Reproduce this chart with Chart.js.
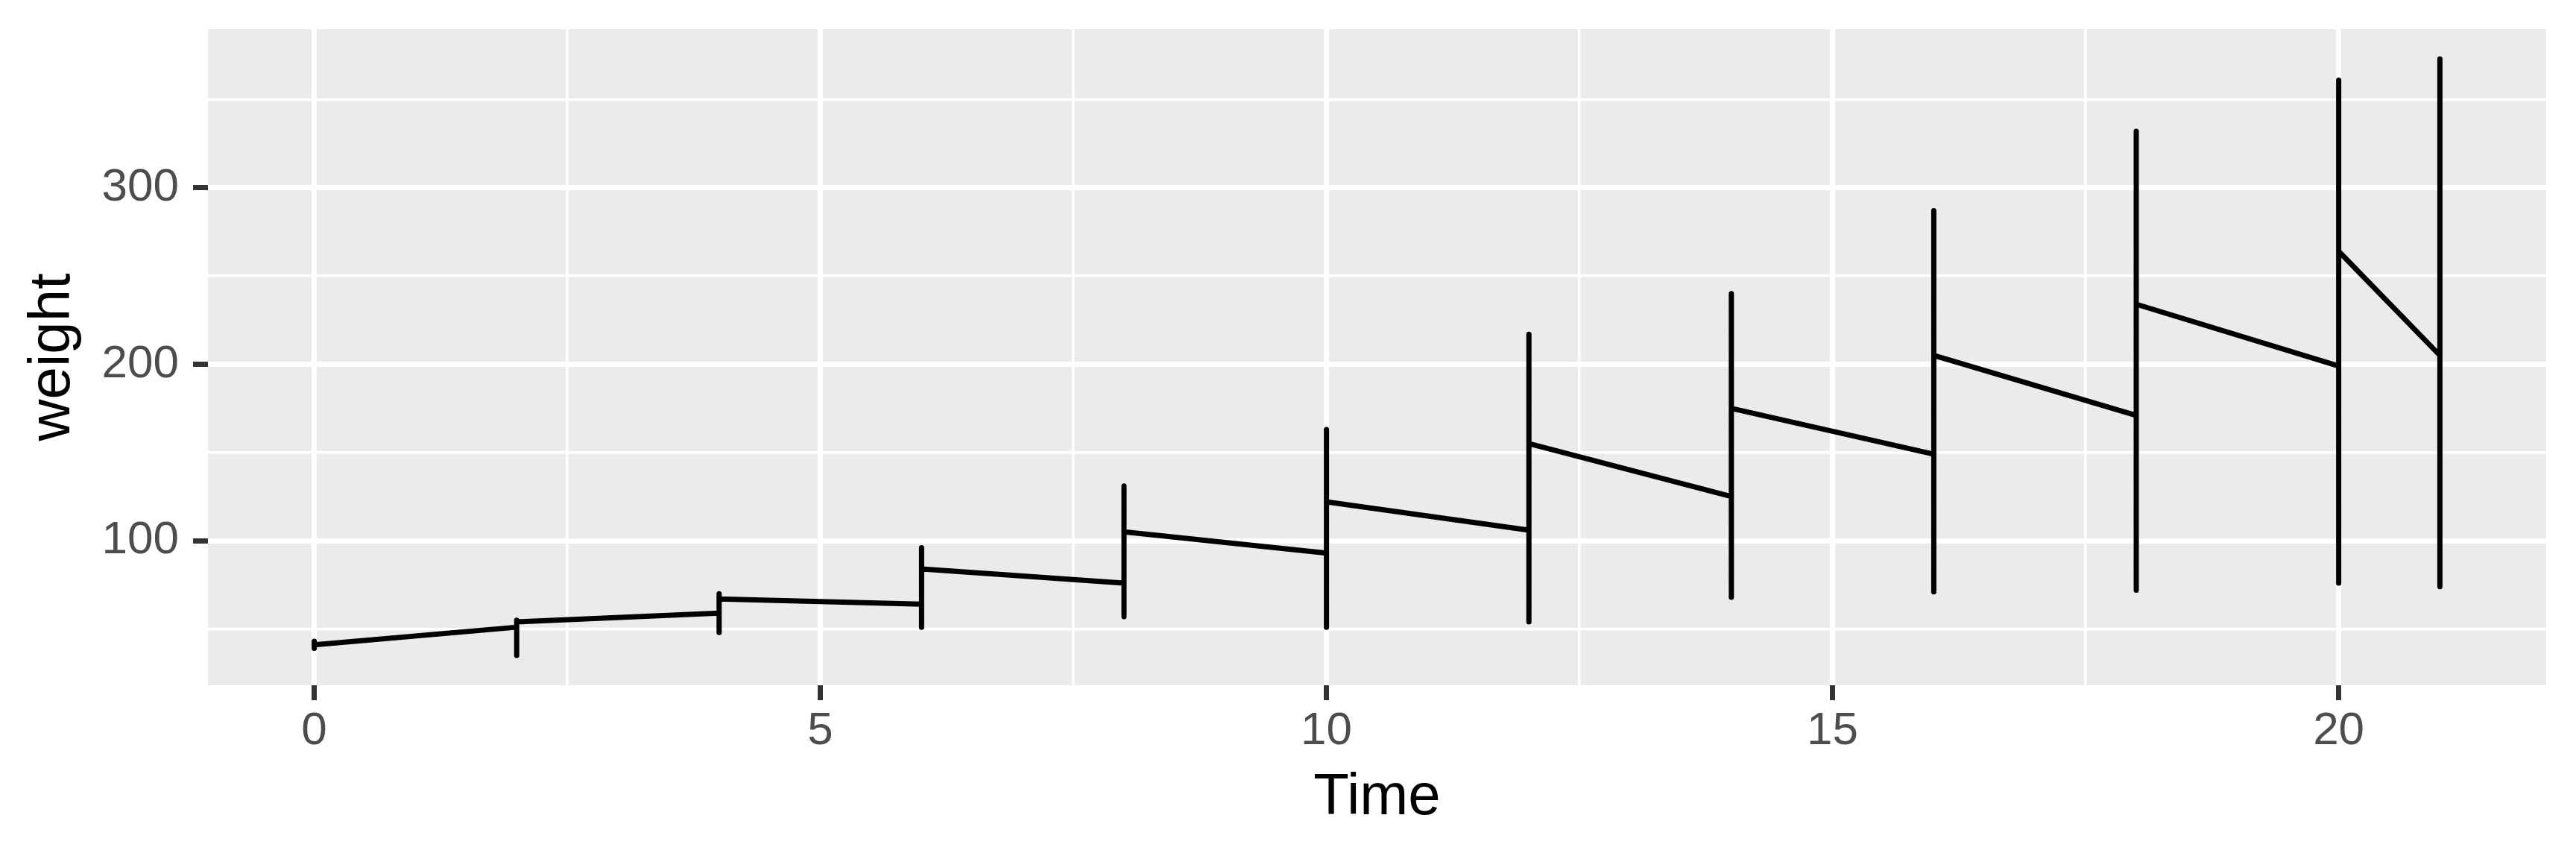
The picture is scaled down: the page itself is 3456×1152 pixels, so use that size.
<!DOCTYPE html>
<html>
<head>
<meta charset="utf-8">
<script src="https://cdn.jsdelivr.net/npm/chart.js@4.4.1/dist/chart.umd.min.js"></script>
<style>
  html, body { margin: 0; padding: 0; background: #ffffff; }
  canvas { display: block; }
</style>
</head>
<body>
<canvas id="myChart" width="3456" height="1152" style="width:3456px;height:1152px"></canvas>
<script>
// ChickWeight, weight ~ Time drawn as one ungrouped line (ggplot geom_line)
// at each Time the path runs first chick -> lowest -> highest -> last chick
var times = [0, 2, 4, 6, 8, 10, 12, 14, 16, 18, 20, 21];
var firstWeight = [42, 51, 59, 64, 76, 93, 106, 125, 149, 171, 199, 205];
var minWeight = [39, 35, 48, 51, 57, 51, 54, 68, 71, 72, 76, 74];
var maxWeight = [43, 55, 70, 96, 131, 163, 217, 240, 287, 332, 361, 373];
var lastWeight = [41, 54, 67, 84, 105, 122, 155, 175, 205, 234, 264, 264];

var xTickValues = [0, 5, 10, 15, 20];
var xMinorValues = [2.5, 7.5, 12.5, 17.5];
var yTickValues = [100, 200, 300];
var yMinorValues = [50, 150, 250, 350];

var points = [];
for (var i = 0; i < times.length; i++) {
  points.push({ x: times[i], y: firstWeight[i] });
  points.push({ x: times[i], y: minWeight[i] });
  points.push({ x: times[i], y: maxWeight[i] });
  points.push({ x: times[i], y: lastWeight[i] });
}

var xGrid = xTickValues.concat(xMinorValues).sort(function (a, b) { return a - b; });
var yGrid = yTickValues.concat(yMinorValues).sort(function (a, b) { return a - b; });

function isMajor(list, v) {
  return list.indexOf(v) !== -1;
}

var panelBackground = {
  id: "panelBackground",
  beforeDraw: function (chart) {
    var a = chart.chartArea;
    var ctx = chart.ctx;
    ctx.save();
    ctx.fillStyle = "#EBEBEB";
    ctx.fillRect(a.left, a.top, a.right - a.left, a.bottom - a.top);
    ctx.restore();
  },
};

var tickFont = { family: "'Liberation Sans', Arial, sans-serif", size: 62 };
var titleFont = { family: "'Liberation Sans', Arial, sans-serif", size: 78 };

new Chart("myChart", {
  type: "line",
  data: {
    datasets: [
      {
        data: points,
        borderColor: "#000000",
        borderWidth: 7,
        borderCapStyle: "butt",
        borderJoinStyle: "round",
        pointRadius: 0,
        tension: 0,
        fill: false,
      },
    ],
  },
  plugins: [panelBackground],
  options: {
    responsive: false,
    animation: false,
    devicePixelRatio: 1,
    layout: { padding: { left: 0, right: 40, top: 39, bottom: 0 } },
    plugins: {
      legend: { display: false },
      tooltip: { enabled: false },
    },
    scales: {
      x: {
        type: "linear",
        min: -1.05,
        max: 22.05,
        afterBuildTicks: function (scale) {
          scale.ticks = xGrid.map(function (v) { return { value: v }; });
        },
        afterFit: function (scale) {
          scale.height = 233;
          scale.paddingLeft = 0;
          scale.paddingRight = 0;
        },
        border: { display: false },
        grid: {
          color: "#FFFFFF",
          lineWidth: function (c) { return isMajor(xTickValues, c.tick.value) ? 7 : 3.5; },
          tickColor: function (c) { return isMajor(xTickValues, c.tick.value) ? "#333333" : "rgba(0,0,0,0)"; },
          tickWidth: 7,
          tickLength: 20,
        },
        ticks: {
          autoSkip: false,
          maxRotation: 0,
          padding: 5,
          color: "#4D4D4D",
          font: tickFont,
          callback: function (v) { return isMajor(xTickValues, v) ? String(v) : ""; },
        },
        title: {
          display: true,
          text: "Time",
          color: "#000000",
          font: titleFont,
          padding: { top: 0, bottom: 35 },
        },
      },
      y: {
        type: "linear",
        min: 18.1,
        max: 389.9,
        afterBuildTicks: function (scale) {
          scale.ticks = yGrid.map(function (v) { return { value: v }; });
        },
        afterFit: function (scale) {
          scale.width = 279;
          scale.paddingTop = 0;
          scale.paddingBottom = 0;
        },
        border: { display: false },
        grid: {
          color: "#FFFFFF",
          lineWidth: function (c) { return isMajor(yTickValues, c.tick.value) ? 7 : 3.5; },
          tickColor: function (c) { return isMajor(yTickValues, c.tick.value) ? "#333333" : "rgba(0,0,0,0)"; },
          tickWidth: 7,
          tickLength: 20,
        },
        ticks: {
          autoSkip: false,
          padding: 19,
          color: "#4D4D4D",
          font: tickFont,
          callback: function (v) { return isMajor(yTickValues, v) ? String(v) : ""; },
        },
        title: {
          display: true,
          text: "weight",
          color: "#000000",
          font: titleFont,
          padding: { top: 25, bottom: 0 },
        },
      },
    },
  },
});
</script>
</body>
</html>
